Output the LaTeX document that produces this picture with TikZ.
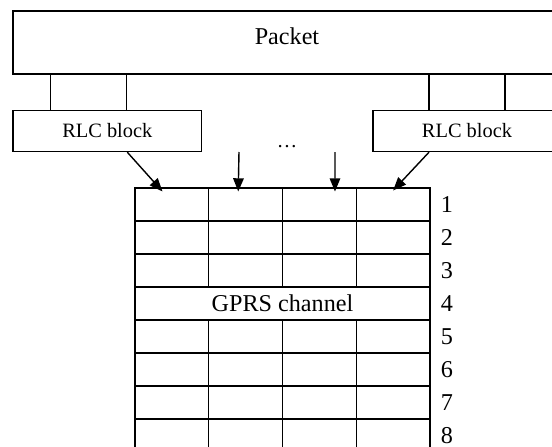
\documentclass[tikz,border=0pt]{standalone}
\usepackage{fontspec}
\setmainfont{Liberation Serif}
\usetikzlibrary{arrows.meta,calc}

\begin{document}
\begin{tikzpicture}[x=0.02cm,y=-0.02cm,
    box/.style={draw,line width=0.8pt,inner sep=0pt},
    cell/.style={draw,line width=0.6pt,minimum width=1.475cm,
      minimum height=0.66cm,inner sep=0pt},
    big/.style={font=\fontsize{13.75}{16}\selectfont},
    small/.style={font=\fontsize{11.6}{14}\selectfont},
    >={Triangle[length=7.5pt,width=6pt]}]
    \useasboundingbox (0,0) rectangle (552,447);
    \clip (0,0) rectangle (552,447);
    \newcommand\slot[3]{
      \node[cell] at (98.125+73.75*#2,171.5+33*#1) (#3) {};
    }
    \newcommand\rowno[1]{
      \node[big] at (447,171.5+33*#1) (n#1) {#1};
    }
    \node[box,big,text depth=7pt,minimum width=10.96cm,minimum height=1.26cm]
      at (287,42.5) (packet) {Packet};
    \node[box,small,minimum width=3.78cm,minimum height=0.82cm]
      at (107.3,131) (rlc1) {RLC block};
    \node[box,small,minimum width=3.76cm,minimum height=0.82cm]
      at (467,131) (rlc2) {RLC block};
    \node[small] at (287,147) (dots) {…};
    \foreach \r in {1,2,3,5,6,7,8}
      \foreach \c in {1,2,3,4}
        \slot{\r}{\c}{c\r\c};
    \node[cell,big,line width=0.9pt,minimum width=5.9cm] at (282.5,303.5) (gprs) {GPRS channel};
    \foreach \r in {1,...,8}
      \rowno{\r};
    \coordinate (s2) at (239,152);
    \coordinate (s3) at (335,152);
    \foreach \x in {50.7,126.7}
      \draw[line width=0.8pt] (\x,0 |- packet.south) -- (\x,0 |- rlc1.north);
    \foreach \x in {429,505}
      \draw[line width=0.8pt] (\x,0 |- packet.south) -- (\x,0 |- rlc2.north);
    \path[->,line width=0.8pt] ($(rlc1.south)+(20,0)$) edge ($(c11.north west)+(28,4)$)
    (s2) edge ($(c12.north west)+(30,4)$)
    (s3) edge ($(c13.north west)+(53,4)$)
    ($(rlc2.south)+(-38,0)$) edge ($(c14.north)+(0,3)$);
  \end{tikzpicture}
\end{document}
